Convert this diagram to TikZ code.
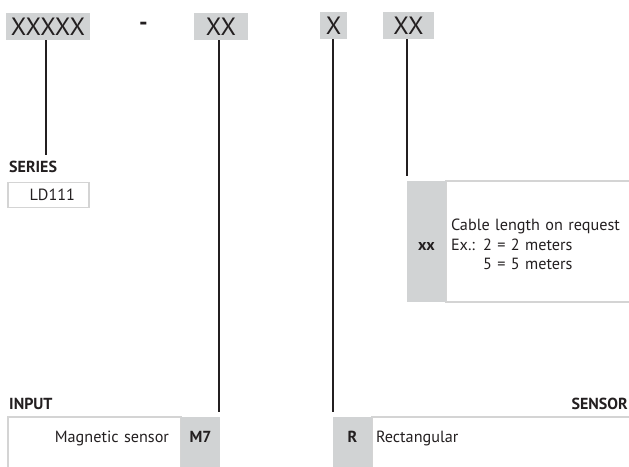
\documentclass[tikz,border=0pt]{standalone}
\usepackage{fontspec}
\setmainfont{PT Sans}
\definecolor{boxgray}{RGB}{209,211,212}
\definecolor{rulegray}{RGB}{212,212,212}
\definecolor{inkdark}{RGB}{35,31,32}
\begin{document}
\begin{tikzpicture}[x=1pt,y=-1pt,text=inkdark,
    codebox/.style={fill=boxgray,inner sep=0pt,minimum height=27,font=\fontsize{25}{28}\selectfont},
    leader/.style={draw=inkdark,line width=1.5pt},
    frame/.style={draw=rulegray,line width=1.5pt,inner ysep=0pt,font=\fontsize{16.2}{19.5}\selectfont},
    keybox/.style={fill=boxgray,inner sep=0pt,font=\bfseries\fontsize{16}{19.5}\selectfont},
    heading/.style={inner sep=0pt,anchor=base west,font=\bfseries\fontsize{16}{19.5}\selectfont}]
    \useasboundingbox (0,0) rectangle (629,466);

    % Drawing the order code
    \node [codebox,minimum width=84] (seriescode) at (48,26.5) {XXXXX};
    \node [inner sep=0pt,font=\bfseries\fontsize{24}{28}\selectfont] (dash) at (143.5,26) {-};
    \node [codebox,minimum width=54] (inputcode) at (221,26.5) {XX};
    \node [codebox,minimum width=27] (sensorcode) at (333.5,25.5) {X};
    \node [codebox,minimum width=51] (cablecode) at (408.5,25.5) {XX};

    % Drawing series block
    \node [heading] (serieslabel) at (9,172) {SERIES};
    \node [frame,minimum width=81,minimum height=25,text width=53,inner xsep=14,align=right] (series) at (48.5,195) {LD111};

    % Drawing cable block
    \node [frame,minimum width=204,minimum height=121,text width=194,inner xsep=5,align=left] (cable) at (548,241.5)
        {\rule{0pt}{17.5pt}Cable length on request\\Ex.: 2 = 2 meters\\\phantom{Ex.: }5 = 5 meters};
    \node [keybox,minimum width=39,minimum height=121,text height=17pt,text depth=0pt] (cablekey) at (426.5,241.5) {xx};

    % Drawing input block
    \node [heading] (inputlabel) at (9,409) {INPUT};
    \node [frame,minimum width=173,minimum height=60,text width=149,inner xsep=12,align=right,text height=0pt,text depth=10pt] (input) at (94.5,447) {Magnetic sensor};
    \node [keybox,minimum width=39,minimum height=60,text height=0pt,text depth=10pt] (inputkey) at (200.5,447) {M7};

    % Drawing sensor block
    \node [heading,anchor=base east] (sensorlabel) at (628,409) {SENSOR};
    \node [frame,minimum width=278,minimum height=60,text width=270,inner xsep=4,align=left,text height=0pt,text depth=10pt] (sensor) at (511,447) {Rectangular};
    \node [keybox,minimum width=39,minimum height=60,text height=0pt,text depth=10pt] (sensorkey) at (352.5,447) {R};

    % Drawing leader lines
    \coordinate (seriesend) at (46,155);
    \coordinate (inputend) at (219,412);
    \coordinate (sensorend) at (333,412);
    \coordinate (cableend) at (407,176);
    \draw [leader] (seriescode.south -| seriesend) -- (seriesend);
    \draw [leader] (inputcode.south -| inputend) -- (inputend);
    \draw [leader] (sensorcode.south -| sensorend) -- (sensorend);
    \draw [leader] (cablecode.south -| cableend) -- (cableend);
\end{tikzpicture}
\end{document}
